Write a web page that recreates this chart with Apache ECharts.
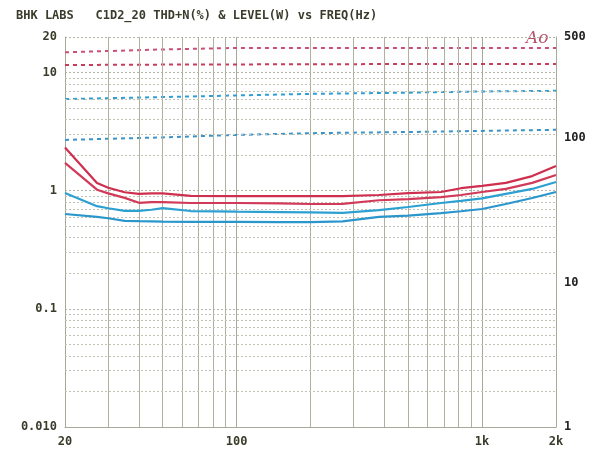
<!DOCTYPE html>
<html>
<head>
<meta charset="utf-8">
<script src="https://cdn.jsdelivr.net/npm/echarts@6/dist/echarts.min.js"></script>
<style>html,body{margin:0;padding:0;background:#fff}#c{width:597px;height:453px}</style>
</head>
<body>
<div id="c"></div>
<script>
// Frequencies (Hz) for THD+N curves
var freq = [20, 27, 30, 35, 40, 45, 50, 65, 100, 150, 200, 270, 380, 500, 680, 820, 1000, 1250, 1600, 2000];
// THD+N (%) – left axis
var thdRed1  = [2.32, 1.16, 1.06, 0.97, 0.94, 0.95, 0.95, 0.905, 0.90, 0.90, 0.90, 0.90, 0.92, 0.955, 0.975, 1.05, 1.10, 1.165, 1.33, 1.62];
var thdRed2  = [1.72, 1.02, 0.95, 0.87, 0.79, 0.80, 0.80, 0.787, 0.787, 0.78, 0.772, 0.775, 0.83, 0.85, 0.884, 0.92, 0.975, 1.035, 1.165, 1.36];
var thdBlue1 = [0.955, 0.74, 0.71, 0.675, 0.675, 0.69, 0.712, 0.673, 0.665, 0.66, 0.655, 0.65, 0.686, 0.728, 0.787, 0.82, 0.86, 0.94, 1.035, 1.185];
var thdBlue2 = [0.635, 0.60, 0.585, 0.556, 0.552, 0.55, 0.548, 0.545, 0.545, 0.543, 0.543, 0.55, 0.60, 0.615, 0.647, 0.67, 0.70, 0.772, 0.867, 0.975];
// Frequencies for level curves
var freqLevel = [20, 50, 100, 200, 500, 1000, 2000];
// Level (W) – right axis
var levRed1  = [392, 410, 420, 420, 420, 420, 420];
var levRed2  = [320, 322, 323, 324, 325, 325, 325];
var levBlue1 = [186, 192, 197, 202, 206, 210, 212];
var levBlue2 = [97, 101, 105, 108, 110, 112, 114];
// Axis labels
var xLabels = {20: '20', 100: '100', 1000: '1k', 2000: '2k'};
var yLeftLabels = {0.01: '0.010', 0.1: '0.1', 1: '1', 10: '10', 20: '20'};
// Minor grid values
var xMinor = [30, 40, 50, 60, 70, 80, 90, 200, 300, 400, 500, 600, 700, 800, 900];
var yMinor = [];
[0.01, 0.1, 1, 10].forEach(function (d) {
  for (var k = 2; k <= 9; k++) { var v = +(d * k).toPrecision(3); if (v < 20) yMinor.push(v); }
});

function pairs(xs, ys) { return xs.map(function (x, i) { return [x, ys[i]]; }); }

var font = '"DejaVu Sans Mono", monospace';
var txt = '#3b3b2c';
var chart = echarts.init(document.getElementById('c'));
var thdLine = function (name, data, color) {
  return { name: name, type: 'line', xAxisIndex: 0, yAxisIndex: 0, data: pairs(freq, data),
    symbol: 'none', smooth: false, lineStyle: { color: color, width: 2.2 }, z: 5 };
};
var levLine = function (name, data, color) {
  return { name: name, type: 'line', xAxisIndex: 0, yAxisIndex: 1, data: pairs(freqLevel, data),
    symbol: 'none', lineStyle: { color: color, width: 2, type: [4, 4] }, z: 4 };
};
chart.setOption({
  backgroundColor: '#ffffff',
  animation: false,
  title: { text: 'BHK LABS   C1D2_20 THD+N(%) & LEVEL(W) vs FREQ(Hz)', left: 11, top: 5,
    textStyle: { fontFamily: font, fontSize: 12, fontWeight: 'bold', color: txt } },
  graphic: [{ type: 'text', left: 526, top: 30,
    style: { text: 'Ao', font: 'italic 17px "DejaVu Serif"', fill: '#b8506a' } }],
  grid: { left: 65, right: 41, top: 37, bottom: 26 },
  xAxis: { type: 'log', min: 20, max: 2000, logBase: 10,
    axisLine: { show: true, onZero: false, lineStyle: { color: '#a9a99a' } },
    axisTick: { show: false },
    axisLabel: { margin: 9, fontFamily: font, fontSize: 12, fontWeight: 'bold', color: txt,
      formatter: function (v) { var r = Math.round(v); return xLabels[r] !== undefined ? xLabels[r] : ''; } },
    splitLine: { show: true, lineStyle: { color: '#a9a99a', width: 1 } } },
  yAxis: [
    { type: 'log', min: 0.01, max: 20, logBase: 10,
      axisLine: { show: true, lineStyle: { color: '#a9a99a' } }, axisTick: { show: false },
      axisLabel: { margin: 8, fontFamily: font, fontSize: 12, fontWeight: 'bold', color: txt,
        formatter: function (v) { var k = +v.toPrecision(3); return yLeftLabels[k] !== undefined ? yLeftLabels[k] : ''; } },
      splitLine: { show: true, lineStyle: { color: '#b5b5a5', type: [2, 2] } } },
    { type: 'log', min: 1, max: 500, logBase: 10, position: 'right',
      axisLine: { show: true, lineStyle: { color: '#a9a99a' } }, axisTick: { show: false },
      axisLabel: { margin: 8, fontFamily: font, fontSize: 12, fontWeight: 'bold', color: '#222',
        formatter: function (v) { return String(Math.round(v)); } },
      splitLine: { show: false } }
  ],
  series: [
    { name: 'grid', type: 'line', xAxisIndex: 0, yAxisIndex: 0, data: [], silent: true,
      markLine: { silent: true, symbol: 'none', label: { show: false },
        lineStyle: { color: '#b0b0a0', width: 1, type: 'solid' },
        data: xMinor.map(function (v) { return { xAxis: v }; }) } },
    { name: 'grid2', type: 'line', xAxisIndex: 0, yAxisIndex: 0, data: [], silent: true,
      markLine: { silent: true, symbol: 'none', label: { show: false },
        lineStyle: { color: '#c2c2b4', width: 1, type: [2, 2] },
        data: yMinor.map(function (v) { return { yAxis: v }; }) } },
    levLine('L1', levRed1, '#cc4f78'),
    levLine('L2', levRed2, '#c83c5c'),
    levLine('L3', levBlue1, '#2f9ed6'),
    levLine('L4', levBlue2, '#3a93c9'),
    thdLine('T1', thdRed1, '#cf2f4f'),
    thdLine('T2', thdRed2, '#d23a5a'),
    thdLine('T3', thdBlue1, '#2da0d2'),
    thdLine('T4', thdBlue2, '#2a96cc')
  ]
});
</script>
</body>
</html>
